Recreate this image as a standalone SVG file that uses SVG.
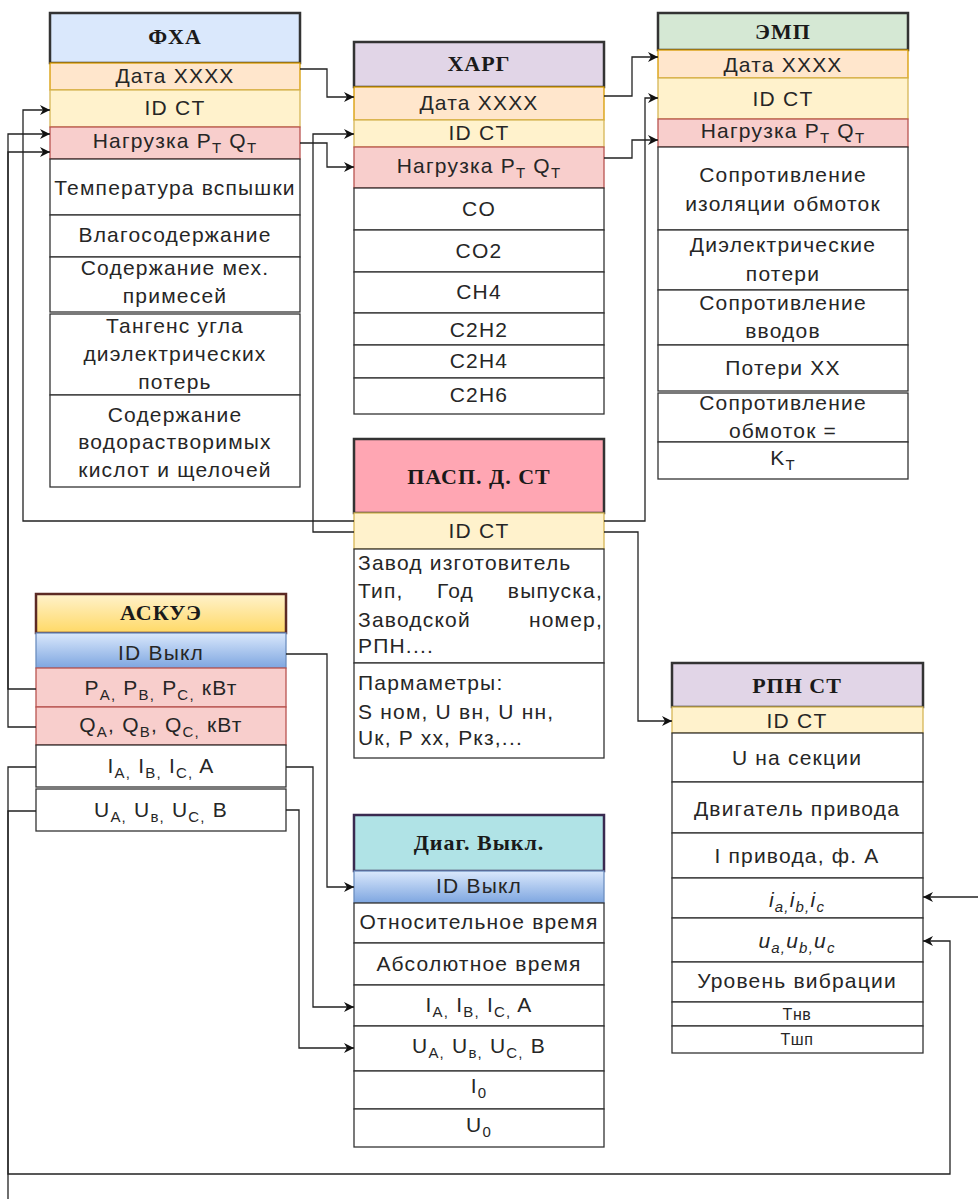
<svg xmlns="http://www.w3.org/2000/svg" width="978" height="1199" viewBox="0 0 978 1199">
<style>
.t{font-family:"Liberation Sans",Arial,sans-serif;font-size:21px;letter-spacing:1.2px;fill:#262626;text-anchor:middle}
.l{text-anchor:start}
.e{text-anchor:end}
.sm{font-size:16px;letter-spacing:0.6px}
.h{font-family:"Liberation Serif","Times New Roman",serif;font-weight:bold;font-size:22px;letter-spacing:1px;fill:#1a1a1a;text-anchor:middle}
.sb{font-size:15px}
.row{fill:#fff;stroke:#333;stroke-width:1.3}
.hd{stroke:#333;stroke-width:2.5}
.date{fill:#ffe6cc;stroke:#d79b00;stroke-width:1.3}
.id{fill:#fff2cc;stroke:#d6b656;stroke-width:1.3}
.load{fill:#f8cecc;stroke:#b85450;stroke-width:1.3}
.idv{fill:url(#gb);stroke:#6c8ebf;stroke-width:1.3}
.c{fill:none;stroke:#222;stroke-width:1.3}
.ca{marker-end:url(#arr)}
</style>
<defs>
<linearGradient id="gb" x1="0" y1="0" x2="0" y2="1"><stop offset="0" stop-color="#dae8fc"/><stop offset="1" stop-color="#7ea6e0"/></linearGradient>
<linearGradient id="gy" x1="0" y1="0" x2="0" y2="1"><stop offset="0" stop-color="#fff2cc"/><stop offset="1" stop-color="#ffd966"/></linearGradient>
<marker id="arr" markerUnits="userSpaceOnUse" viewBox="0 0 10 10" refX="10" refY="5" markerWidth="10" markerHeight="10" orient="auto"><path d="M0,0 L10,5 L0,10 L3,5 z" fill="#111"/></marker>
</defs>

<g id="fha">
<rect class="hd" x="50" y="13" width="250" height="50" fill="#dae8fc"/>
<text class="h" x="175" y="44">ФХА</text>
<rect class="date" x="50" y="63" width="250" height="27"/>
<text class="t" x="175" y="83">Дата XXXX</text>
<rect class="id" x="50" y="90" width="250" height="37"/>
<text class="t" x="175" y="115">ID CT</text>
<rect class="load" x="50" y="127" width="250" height="32"/>
<text class="t" x="175" y="148">Нагрузка P<tspan class="sb" dy="5">T</tspan><tspan dy="-5"> Q</tspan><tspan class="sb" dy="5">T</tspan></text>
<rect class="row" x="50" y="159" width="250" height="56"/>
<text class="t" x="175" y="195">Температура вспышки</text>
<rect class="row" x="50" y="215" width="250" height="42"/>
<text class="t" x="175" y="242">Влагосодержание</text>
<rect class="row" x="50" y="257" width="250" height="55"/>
<text class="t" x="175" y="275">Содержание мех.</text>
<text class="t" x="175" y="303">примесей</text>
<rect class="row" x="50" y="314" width="250" height="81"/>
<text class="t" x="175" y="333">Тангенс угла</text>
<text class="t" x="175" y="361">диэлектрических</text>
<text class="t" x="175" y="389">потерь</text>
<rect class="row" x="50" y="395" width="250" height="92"/>
<text class="t" x="175" y="422">Содержание</text>
<text class="t" x="175" y="449">водорастворимых</text>
<text class="t" x="175" y="477">кислот и щелочей</text>
</g>

<g id="harg">
<rect class="hd" x="354" y="42" width="250" height="45" fill="#e1d5e7"/>
<text class="h" x="479" y="71">ХАРГ</text>
<rect class="date" x="354" y="87" width="250" height="33"/>
<text class="t" x="479" y="110">Дата XXXX</text>
<rect class="id" x="354" y="120" width="250" height="27"/>
<text class="t" x="479" y="140">ID CT</text>
<rect class="load" x="354" y="147" width="250" height="41"/>
<text class="t" x="479" y="173">Нагрузка P<tspan class="sb" dy="5">T</tspan><tspan dy="-5"> Q</tspan><tspan class="sb" dy="5">T</tspan></text>
<rect class="row" x="354" y="188" width="250" height="42"/>
<text class="t" x="479" y="216">CO</text>
<rect class="row" x="354" y="230" width="250" height="42"/>
<text class="t" x="479" y="258">CO2</text>
<rect class="row" x="354" y="272" width="250" height="41"/>
<text class="t" x="479" y="299">CH4</text>
<rect class="row" x="354" y="313" width="250" height="32"/>
<text class="t" x="479" y="337">C2H2</text>
<rect class="row" x="354" y="345" width="250" height="33"/>
<text class="t" x="479" y="368">C2H4</text>
<rect class="row" x="354" y="378" width="250" height="36"/>
<text class="t" x="479" y="402">C2H6</text>
</g>

<g id="emp">
<rect class="hd" x="658" y="13" width="250" height="37" fill="#d5e8d4"/>
<text class="h" x="783" y="39">ЭМП</text>
<rect class="date" x="658" y="50" width="250" height="28"/>
<text class="t" x="783" y="72">Дата XXXX</text>
<rect class="id" x="658" y="78" width="250" height="41"/>
<text class="t" x="783" y="106">ID CT</text>
<rect class="load" x="658" y="119" width="250" height="28"/>
<text class="t" x="783" y="138">Нагрузка P<tspan class="sb" dy="5">T</tspan><tspan dy="-5"> Q</tspan><tspan class="sb" dy="5">T</tspan></text>
<rect class="row" x="658" y="147" width="250" height="83"/>
<text class="t" x="783" y="182">Сопротивление</text>
<text class="t" x="783" y="211">изоляции обмоток</text>
<rect class="row" x="658" y="230" width="250" height="60"/>
<text class="t" x="783" y="252">Диэлектрические</text>
<text class="t" x="783" y="281">потери</text>
<rect class="row" x="658" y="290" width="250" height="55"/>
<text class="t" x="783" y="310">Сопротивление</text>
<text class="t" x="783" y="338">вводов</text>
<rect class="row" x="658" y="345" width="250" height="46"/>
<text class="t" x="783" y="375">Потери XX</text>
<rect class="row" x="658" y="393" width="250" height="49"/>
<text class="t" x="783" y="410">Сопротивление</text>
<text class="t" x="783" y="438">обмоток =</text>
<rect class="row" x="658" y="442" width="250" height="37" fill="none"/>
<text class="t" x="783" y="465">K<tspan class="sb" dy="5">T</tspan></text>
</g>

<g id="pasp">
<rect class="hd" x="354" y="439" width="250" height="74" fill="#ffa6b3"/>
<text class="h" x="479" y="484">ПАСП. Д. СТ</text>
<rect class="id" x="354" y="513" width="250" height="36"/>
<text class="t" x="479" y="538">ID CT</text>
<rect class="row" x="354" y="549" width="250" height="114"/>
<text class="t l" x="358" y="570">Завод изготовитель</text>
<text class="t l" x="358" y="598">Тип,</text>
<text class="t l" x="437" y="598">Год</text>
<text class="t e" x="603" y="598">выпуска,</text>
<text class="t l" x="358" y="627">Заводской</text>
<text class="t e" x="603" y="627">номер,</text>
<text class="t l" x="358" y="653">РПН....</text>
<rect class="row" x="354" y="663" width="250" height="95"/>
<text class="t l" x="358" y="690">Пармаметры:</text>
<text class="t l" x="358" y="719">S ном, U вн, U нн,</text>
<text class="t l" x="358" y="745">Uк, P xx, Pкз,...</text>
</g>

<g id="askue">
<rect x="36" y="594" width="250" height="39" fill="url(#gy)" stroke="#5c2a24" stroke-width="2.5"/>
<text class="h" x="161" y="620">АСКУЭ</text>
<rect class="idv" x="36" y="633" width="250" height="35"/>
<text class="t" x="161" y="660">ID Выкл</text>
<rect class="load" x="36" y="668" width="250" height="39"/>
<text class="t" x="161" y="695">P<tspan class="sb" dy="5">A,</tspan><tspan dy="-5"> P</tspan><tspan class="sb" dy="5">B,</tspan><tspan dy="-5"> P</tspan><tspan class="sb" dy="5">C,</tspan><tspan dy="-5"> кВт</tspan></text>
<rect class="load" x="36" y="707" width="250" height="38"/>
<text class="t" x="161" y="732">Q<tspan class="sb" dy="5">A</tspan><tspan dy="-5">, Q</tspan><tspan class="sb" dy="5">B</tspan><tspan dy="-5">, Q</tspan><tspan class="sb" dy="5">C,</tspan><tspan dy="-5"> кВт</tspan></text>
<rect class="row" x="36" y="745" width="250" height="42"/>
<text class="t" x="161" y="773">I<tspan class="sb" dy="5">A,</tspan><tspan dy="-5"> I</tspan><tspan class="sb" dy="5">B,</tspan><tspan dy="-5"> I</tspan><tspan class="sb" dy="5">C,</tspan><tspan dy="-5"> A</tspan></text>
<rect class="row" x="36" y="789" width="250" height="42"/>
<text class="t" x="161" y="817">U<tspan class="sb" dy="5">A,</tspan><tspan dy="-5"> U</tspan><tspan class="sb" dy="5">в,</tspan><tspan dy="-5"> U</tspan><tspan class="sb" dy="5">C,</tspan><tspan dy="-5"> B</tspan></text>
</g>

<g id="diag">
<rect x="354" y="815" width="250" height="56" fill="#b0e3e6" stroke="#3a2a50" stroke-width="2.5"/>
<text class="h" x="479" y="850">Диаг. Выкл.</text>
<rect class="idv" x="354" y="871" width="250" height="32"/>
<text class="t" x="479" y="893">ID Выкл</text>
<rect class="row" x="354" y="903" width="250" height="40"/>
<text class="t" x="479" y="929">Относительное время</text>
<rect class="row" x="354" y="943" width="250" height="42"/>
<text class="t" x="479" y="971">Абсолютное время</text>
<rect class="row" x="354" y="985" width="250" height="41"/>
<text class="t" x="479" y="1012">I<tspan class="sb" dy="5">A,</tspan><tspan dy="-5"> I</tspan><tspan class="sb" dy="5">B,</tspan><tspan dy="-5"> I</tspan><tspan class="sb" dy="5">C,</tspan><tspan dy="-5"> A</tspan></text>
<rect class="row" x="354" y="1026" width="250" height="45"/>
<text class="t" x="479" y="1053">U<tspan class="sb" dy="5">A,</tspan><tspan dy="-5"> U</tspan><tspan class="sb" dy="5">в,</tspan><tspan dy="-5"> U</tspan><tspan class="sb" dy="5">C,</tspan><tspan dy="-5"> B</tspan></text>
<rect class="row" x="354" y="1071" width="250" height="38"/>
<text class="t" x="479" y="1093">I<tspan class="sb" dy="5">0</tspan></text>
<rect class="row" x="354" y="1109" width="250" height="38"/>
<text class="t" x="479" y="1132">U<tspan class="sb" dy="5">0</tspan></text>
</g>

<g id="rpn">
<rect class="hd" x="672" y="663" width="251" height="44" fill="#e1d5e7"/>
<text class="h" x="797" y="693">РПН СТ</text>
<rect class="id" x="672" y="707" width="251" height="26"/>
<text class="t" x="797" y="728">ID CT</text>
<rect class="row" x="672" y="733" width="251" height="49"/>
<text class="t" x="797" y="765">U на секции</text>
<rect class="row" x="672" y="782" width="251" height="51"/>
<text class="t" x="797" y="816">Двигатель привода</text>
<rect class="row" x="672" y="833" width="251" height="45"/>
<text class="t" x="797" y="863">I привода, ф. A</text>
<rect class="row" x="672" y="878" width="251" height="40"/>
<text class="t" x="797" y="907" font-style="italic">i<tspan class="sb" dy="5">a,</tspan><tspan dy="-5">i</tspan><tspan class="sb" dy="5">b,</tspan><tspan dy="-5">i</tspan><tspan class="sb" dy="5">c</tspan></text>
<rect class="row" x="672" y="918" width="251" height="44"/>
<text class="t" x="797" y="948" font-style="italic">u<tspan class="sb" dy="5">a,</tspan><tspan dy="-5">u</tspan><tspan class="sb" dy="5">b,</tspan><tspan dy="-5">u</tspan><tspan class="sb" dy="5">c</tspan></text>
<rect class="row" x="672" y="962" width="251" height="40"/>
<text class="t" x="797" y="988">Уровень вибрации</text>
<rect class="row" x="672" y="1002" width="251" height="24"/>
<text class="t sm" x="797" y="1020">Тнв</text>
<rect class="row" x="672" y="1026" width="251" height="27"/>
<text class="t sm" x="797" y="1045">Тшп</text>
</g>

<g id="connectors">
<path class="c ca" d="M300,69 H327 V97 H354"/>
<path class="c ca" d="M300,143 H327 V167 H354"/>
<path class="c ca" d="M354,532 H313 V134 H354"/>
<path class="c ca" d="M354,521 H23 V110 H50"/>
<path class="c ca" d="M604,521 H645 V98 H658"/>
<path class="c ca" d="M604,532 H638 V721 H672"/>
<path class="c ca" d="M604,96 H632 V57 H658"/>
<path class="c ca" d="M604,158 H632 V140 H658"/>
<path class="c ca" d="M36,689 H8 V134 H50"/>
<path class="c ca" d="M36,727 H8 V152 H50"/>
<path class="c ca" d="M286,654 H327 V887 H354"/>
<path class="c ca" d="M286,767 H313 V1007 H354"/>
<path class="c ca" d="M286,810 H299 V1048 H354"/>
<path class="c" d="M36,767 H8 V1199"/>
<path class="c ca" d="M36,811 H8 V1174 H950 V941 H923"/>
<path class="c ca" d="M978,897 H923"/>
</g>
</svg>
